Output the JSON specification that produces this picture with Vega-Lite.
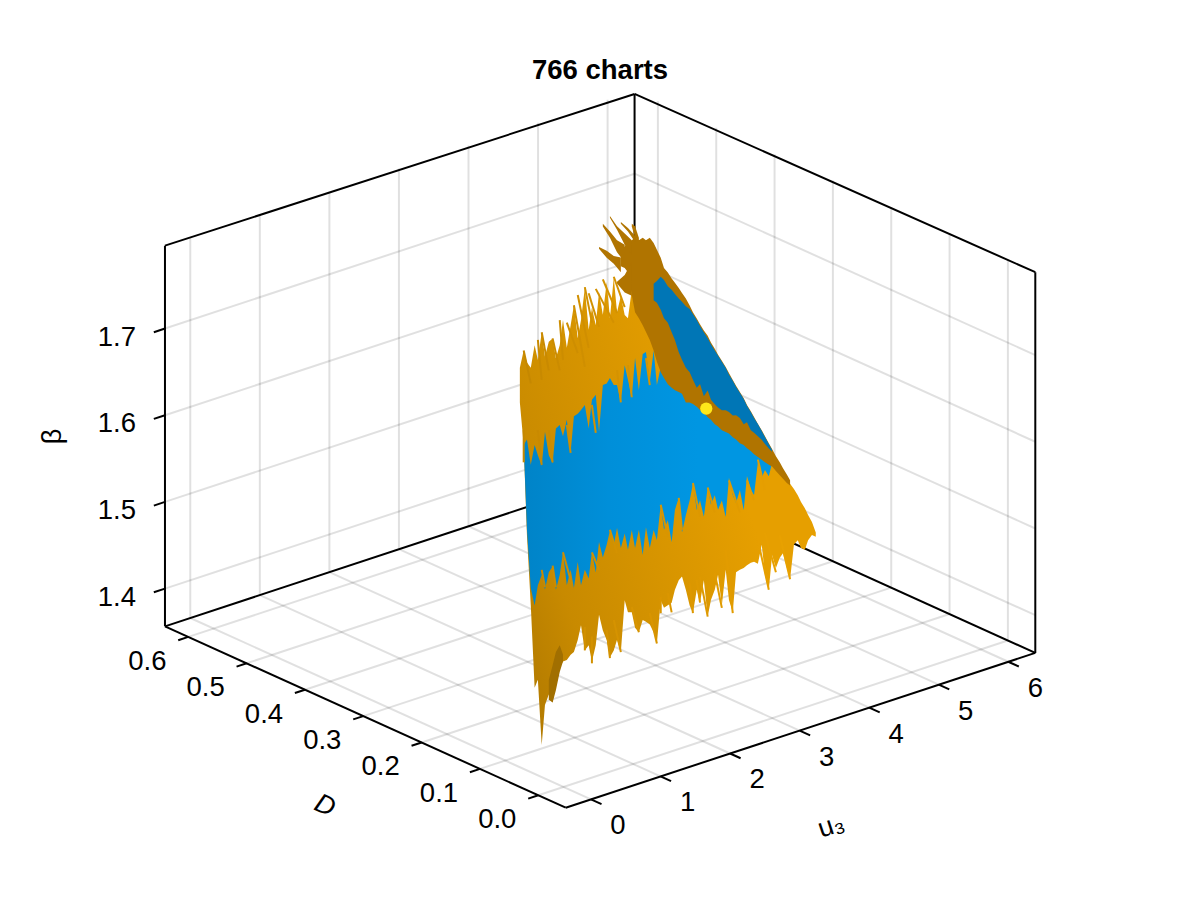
{
  "$schema": "https://vega.github.io/schema/vega-lite/v6.json",
  "width": 1200,
  "height": 900,
  "padding": 0,
  "autosize": {"type": "none"},
  "background": "white",
  "title": {"text": "766 charts", "font": "Liberation Sans", "fontSize": 27.5, "fontWeight": "bold", "color": "black", "anchor": "middle", "frame": "group", "baseline": "alphabetic", "offset": -106},
  "config": {"view": {"stroke": null}, "text": {"font": "Liberation Sans"}},
  "datasets": {
    "frame": [
      {"kind":"grid","u3":0,"D":-0.047,"beta":1.3565,"u3End":0,"DEnd":0.64,"betaEnd":1.3565},
      {"kind":"grid","u3":1,"D":-0.047,"beta":1.3565,"u3End":1,"DEnd":0.64,"betaEnd":1.3565},
      {"kind":"grid","u3":2,"D":-0.047,"beta":1.3565,"u3End":2,"DEnd":0.64,"betaEnd":1.3565},
      {"kind":"grid","u3":3,"D":-0.047,"beta":1.3565,"u3End":3,"DEnd":0.64,"betaEnd":1.3565},
      {"kind":"grid","u3":4,"D":-0.047,"beta":1.3565,"u3End":4,"DEnd":0.64,"betaEnd":1.3565},
      {"kind":"grid","u3":5,"D":-0.047,"beta":1.3565,"u3End":5,"DEnd":0.64,"betaEnd":1.3565},
      {"kind":"grid","u3":6,"D":-0.047,"beta":1.3565,"u3End":6,"DEnd":0.64,"betaEnd":1.3565},
      {"kind":"grid","u3":-0.364,"D":0,"beta":1.3565,"u3End":6.388,"DEnd":0,"betaEnd":1.3565},
      {"kind":"grid","u3":-0.364,"D":0.1,"beta":1.3565,"u3End":6.388,"DEnd":0.1,"betaEnd":1.3565},
      {"kind":"grid","u3":-0.364,"D":0.2,"beta":1.3565,"u3End":6.388,"DEnd":0.2,"betaEnd":1.3565},
      {"kind":"grid","u3":-0.364,"D":0.3,"beta":1.3565,"u3End":6.388,"DEnd":0.3,"betaEnd":1.3565},
      {"kind":"grid","u3":-0.364,"D":0.4,"beta":1.3565,"u3End":6.388,"DEnd":0.4,"betaEnd":1.3565},
      {"kind":"grid","u3":-0.364,"D":0.5,"beta":1.3565,"u3End":6.388,"DEnd":0.5,"betaEnd":1.3565},
      {"kind":"grid","u3":-0.364,"D":0.6,"beta":1.3565,"u3End":6.388,"DEnd":0.6,"betaEnd":1.3565},
      {"kind":"grid","u3":0,"D":0.64,"beta":1.3565,"u3End":0,"DEnd":0.64,"betaEnd":1.7956},
      {"kind":"grid","u3":1,"D":0.64,"beta":1.3565,"u3End":1,"DEnd":0.64,"betaEnd":1.7956},
      {"kind":"grid","u3":2,"D":0.64,"beta":1.3565,"u3End":2,"DEnd":0.64,"betaEnd":1.7956},
      {"kind":"grid","u3":3,"D":0.64,"beta":1.3565,"u3End":3,"DEnd":0.64,"betaEnd":1.7956},
      {"kind":"grid","u3":4,"D":0.64,"beta":1.3565,"u3End":4,"DEnd":0.64,"betaEnd":1.7956},
      {"kind":"grid","u3":5,"D":0.64,"beta":1.3565,"u3End":5,"DEnd":0.64,"betaEnd":1.7956},
      {"kind":"grid","u3":6,"D":0.64,"beta":1.3565,"u3End":6,"DEnd":0.64,"betaEnd":1.7956},
      {"kind":"grid","u3":-0.364,"D":0.64,"beta":1.4,"u3End":6.388,"DEnd":0.64,"betaEnd":1.4},
      {"kind":"grid","u3":-0.364,"D":0.64,"beta":1.5,"u3End":6.388,"DEnd":0.64,"betaEnd":1.5},
      {"kind":"grid","u3":-0.364,"D":0.64,"beta":1.6,"u3End":6.388,"DEnd":0.64,"betaEnd":1.6},
      {"kind":"grid","u3":-0.364,"D":0.64,"beta":1.7,"u3End":6.388,"DEnd":0.64,"betaEnd":1.7},
      {"kind":"grid","u3":6.388,"D":0,"beta":1.3565,"u3End":6.388,"DEnd":0,"betaEnd":1.7956},
      {"kind":"grid","u3":6.388,"D":0.1,"beta":1.3565,"u3End":6.388,"DEnd":0.1,"betaEnd":1.7956},
      {"kind":"grid","u3":6.388,"D":0.2,"beta":1.3565,"u3End":6.388,"DEnd":0.2,"betaEnd":1.7956},
      {"kind":"grid","u3":6.388,"D":0.3,"beta":1.3565,"u3End":6.388,"DEnd":0.3,"betaEnd":1.7956},
      {"kind":"grid","u3":6.388,"D":0.4,"beta":1.3565,"u3End":6.388,"DEnd":0.4,"betaEnd":1.7956},
      {"kind":"grid","u3":6.388,"D":0.5,"beta":1.3565,"u3End":6.388,"DEnd":0.5,"betaEnd":1.7956},
      {"kind":"grid","u3":6.388,"D":0.6,"beta":1.3565,"u3End":6.388,"DEnd":0.6,"betaEnd":1.7956},
      {"kind":"grid","u3":6.388,"D":-0.047,"beta":1.4,"u3End":6.388,"DEnd":0.64,"betaEnd":1.4},
      {"kind":"grid","u3":6.388,"D":-0.047,"beta":1.5,"u3End":6.388,"DEnd":0.64,"betaEnd":1.5},
      {"kind":"grid","u3":6.388,"D":-0.047,"beta":1.6,"u3End":6.388,"DEnd":0.64,"betaEnd":1.6},
      {"kind":"grid","u3":6.388,"D":-0.047,"beta":1.7,"u3End":6.388,"DEnd":0.64,"betaEnd":1.7},
      {"kind":"edge","u3":-0.364,"D":0.64,"beta":1.3565,"u3End":-0.364,"DEnd":0.64,"betaEnd":1.7956},
      {"kind":"edge","u3":6.388,"D":-0.047,"beta":1.3565,"u3End":6.388,"DEnd":-0.047,"betaEnd":1.7956},
      {"kind":"edge","u3":6.388,"D":0.64,"beta":1.3565,"u3End":6.388,"DEnd":0.64,"betaEnd":1.792},
      {"kind":"edge","u3":-0.364,"D":0.64,"beta":1.7956,"u3End":6.388,"DEnd":0.64,"betaEnd":1.792},
      {"kind":"edge","u3":6.388,"D":0.64,"beta":1.792,"u3End":6.388,"DEnd":-0.047,"betaEnd":1.7956},
      {"kind":"edge","u3":-0.364,"D":-0.047,"beta":1.3565,"u3End":6.388,"DEnd":-0.047,"betaEnd":1.3565},
      {"kind":"edge","u3":-0.364,"D":-0.047,"beta":1.3565,"u3End":-0.364,"DEnd":0.64,"betaEnd":1.3565},
      {"kind":"edge","u3":-0.364,"D":0.64,"beta":1.3565,"u3End":6.388,"DEnd":0.64,"betaEnd":1.3565},
      {"kind":"edge","u3":6.388,"D":-0.047,"beta":1.3565,"u3End":6.388,"DEnd":0.64,"betaEnd":1.3565}
    ],
    "ticks": [
      {"axis":"u3","label":"0","u3":0,"D":-0.047,"beta":1.3565,"u3End":0,"DEnd":-0.065,"betaEnd":1.3565},
      {"axis":"u3","label":"1","u3":1,"D":-0.047,"beta":1.3565,"u3End":1,"DEnd":-0.065,"betaEnd":1.3565},
      {"axis":"u3","label":"2","u3":2,"D":-0.047,"beta":1.3565,"u3End":2,"DEnd":-0.065,"betaEnd":1.3565},
      {"axis":"u3","label":"3","u3":3,"D":-0.047,"beta":1.3565,"u3End":3,"DEnd":-0.065,"betaEnd":1.3565},
      {"axis":"u3","label":"4","u3":4,"D":-0.047,"beta":1.3565,"u3End":4,"DEnd":-0.065,"betaEnd":1.3565},
      {"axis":"u3","label":"5","u3":5,"D":-0.047,"beta":1.3565,"u3End":5,"DEnd":-0.065,"betaEnd":1.3565},
      {"axis":"u3","label":"6","u3":6,"D":-0.047,"beta":1.3565,"u3End":6,"DEnd":-0.065,"betaEnd":1.3565},
      {"axis":"D","label":"0.0","u3":-0.364,"D":0,"beta":1.3565,"u3End":-0.509,"DEnd":0,"betaEnd":1.3565},
      {"axis":"D","label":"0.1","u3":-0.364,"D":0.1,"beta":1.3565,"u3End":-0.509,"DEnd":0.1,"betaEnd":1.3565},
      {"axis":"D","label":"0.2","u3":-0.364,"D":0.2,"beta":1.3565,"u3End":-0.509,"DEnd":0.2,"betaEnd":1.3565},
      {"axis":"D","label":"0.3","u3":-0.364,"D":0.3,"beta":1.3565,"u3End":-0.509,"DEnd":0.3,"betaEnd":1.3565},
      {"axis":"D","label":"0.4","u3":-0.364,"D":0.4,"beta":1.3565,"u3End":-0.509,"DEnd":0.4,"betaEnd":1.3565},
      {"axis":"D","label":"0.5","u3":-0.364,"D":0.5,"beta":1.3565,"u3End":-0.509,"DEnd":0.5,"betaEnd":1.3565},
      {"axis":"D","label":"0.6","u3":-0.364,"D":0.6,"beta":1.3565,"u3End":-0.509,"DEnd":0.6,"betaEnd":1.3565},
      {"axis":"beta","label":"1.4","u3":-0.364,"D":0.64,"beta":1.4,"u3End":-0.524,"DEnd":0.64,"betaEnd":1.4},
      {"axis":"beta","label":"1.5","u3":-0.364,"D":0.64,"beta":1.5,"u3End":-0.524,"DEnd":0.64,"betaEnd":1.5},
      {"axis":"beta","label":"1.6","u3":-0.364,"D":0.64,"beta":1.6,"u3End":-0.524,"DEnd":0.64,"betaEnd":1.6},
      {"axis":"beta","label":"1.7","u3":-0.364,"D":0.64,"beta":1.7,"u3End":-0.524,"DEnd":0.64,"betaEnd":1.7}
    ],
    "sheet": [
      {"u3":1.82,"D":0.292,"top":1.703,"blueTop":1.666,"blueBottom":1.666,"bottom":1.663},
      {"u3":1.85,"D":0.289,"top":1.723,"blueTop":1.614,"blueBottom":1.614,"bottom":1.614},
      {"u3":1.88,"D":0.287,"top":1.709,"blueTop":1.620,"blueBottom":1.516,"bottom":1.510},
      {"u3":1.91,"D":0.284,"top":1.703,"blueTop":1.591,"blueBottom":1.449,"bottom":1.429},
      {"u3":1.94,"D":0.281,"top":1.729,"blueTop":1.614,"blueBottom":1.429,"bottom":1.334},
      {"u3":1.97,"D":0.279,"top":1.712,"blueTop":1.602,"blueBottom":1.452,"bottom":1.343},
      {"u3":2.00,"D":0.276,"top":1.744,"blueTop":1.590,"blueBottom":1.464,"bottom":1.268},
      {"u3":2.03,"D":0.274,"top":1.716,"blueTop":1.629,"blueBottom":1.447,"bottom":1.314},
      {"u3":2.06,"D":0.271,"top":1.733,"blueTop":1.602,"blueBottom":1.467,"bottom":1.326},
      {"u3":2.09,"D":0.268,"top":1.737,"blueTop":1.593,"blueBottom":1.474,"bottom":1.317},
      {"u3":2.12,"D":0.266,"top":1.714,"blueTop":1.633,"blueBottom":1.447,"bottom":1.343},
      {"u3":2.15,"D":0.263,"top":1.729,"blueTop":1.637,"blueBottom":1.464,"bottom":1.357},
      {"u3":2.18,"D":0.261,"top":1.758,"blueTop":1.624,"blueBottom":1.490,"bottom":1.364},
      {"u3":2.21,"D":0.258,"top":1.726,"blueTop":1.643,"blueBottom":1.452,"bottom":1.366},
      {"u3":2.24,"D":0.255,"top":1.752,"blueTop":1.606,"blueBottom":1.470,"bottom":1.372},
      {"u3":2.27,"D":0.253,"top":1.775,"blueTop":1.647,"blueBottom":1.449,"bottom":1.375},
      {"u3":2.30,"D":0.250,"top":1.737,"blueTop":1.650,"blueBottom":1.479,"bottom":1.389},
      {"u3":2.33,"D":0.248,"top":1.758,"blueTop":1.654,"blueBottom":1.452,"bottom":1.406},
      {"u3":2.36,"D":0.245,"top":1.795,"blueTop":1.660,"blueBottom":1.470,"bottom":1.377},
      {"u3":2.39,"D":0.242,"top":1.747,"blueTop":1.633,"blueBottom":1.460,"bottom":1.383},
      {"u3":2.42,"D":0.240,"top":1.772,"blueTop":1.666,"blueBottom":1.490,"bottom":1.364},
      {"u3":2.45,"D":0.237,"top":1.752,"blueTop":1.672,"blueBottom":1.467,"bottom":1.383},
      {"u3":2.48,"D":0.235,"top":1.790,"blueTop":1.629,"blueBottom":1.502,"bottom":1.418},
      {"u3":2.51,"D":0.232,"top":1.764,"blueTop":1.683,"blueBottom":1.484,"bottom":1.400},
      {"u3":2.54,"D":0.229,"top":1.802,"blueTop":1.685,"blueBottom":1.499,"bottom":1.389},
      {"u3":2.57,"D":0.227,"top":1.760,"blueTop":1.691,"blueBottom":1.515,"bottom":1.369},
      {"u3":2.60,"D":0.224,"top":1.807,"blueTop":1.683,"blueBottom":1.499,"bottom":1.377},
      {"u3":2.63,"D":0.222,"top":1.767,"blueTop":1.683,"blueBottom":1.518,"bottom":1.389},
      {"u3":2.66,"D":0.219,"top":1.786,"blueTop":1.663,"blueBottom":1.495,"bottom":1.375},
      {"u3":2.69,"D":0.216,"top":1.764,"blueTop":1.706,"blueBottom":1.512,"bottom":1.435},
      {"u3":2.72,"D":0.214,"top":1.760,"blueTop":1.689,"blueBottom":1.493,"bottom":1.421},
      {"u3":2.75,"D":0.211,"top":1.793,"blueTop":1.669,"blueBottom":1.516,"bottom":1.421},
      {"u3":2.78,"D":0.209,"top":1.773,"blueTop":1.714,"blueBottom":1.495,"bottom":1.403},
      {"u3":2.81,"D":0.206,"top":1.766,"blueTop":1.677,"blueBottom":1.516,"bottom":1.398},
      {"u3":2.84,"D":0.203,"top":1.758,"blueTop":1.719,"blueBottom":1.487,"bottom":1.412},
      {"u3":2.87,"D":0.201,"top":1.750,"blueTop":1.721,"blueBottom":1.519,"bottom":1.410},
      {"u3":2.90,"D":0.198,"top":1.741,"blueTop":1.687,"blueBottom":1.495,"bottom":1.407},
      {"u3":2.93,"D":0.195,"top":1.729,"blueTop":1.723,"blueBottom":1.516,"bottom":1.398},
      {"u3":2.96,"D":0.193,"top":1.715,"blueTop":1.683,"blueBottom":1.504,"bottom":1.385},
      {"u3":2.99,"D":0.190,"top":1.704,"blueTop":1.704,"blueBottom":1.545,"bottom":1.435},
      {"u3":3.02,"D":0.188,"top":1.697,"blueTop":1.697,"blueBottom":1.516,"bottom":1.426},
      {"u3":3.05,"D":0.185,"top":1.690,"blueTop":1.690,"blueBottom":1.527,"bottom":1.429},
      {"u3":3.08,"D":0.182,"top":1.685,"blueTop":1.685,"blueBottom":1.502,"bottom":1.432},
      {"u3":3.11,"D":0.180,"top":1.683,"blueTop":1.683,"blueBottom":1.539,"bottom":1.447},
      {"u3":3.14,"D":0.177,"top":1.681,"blueTop":1.681,"blueBottom":1.553,"bottom":1.458},
      {"u3":3.17,"D":0.175,"top":1.678,"blueTop":1.678,"blueBottom":1.513,"bottom":1.462},
      {"u3":3.20,"D":0.172,"top":1.669,"blueTop":1.669,"blueBottom":1.533,"bottom":1.447},
      {"u3":3.23,"D":0.169,"top":1.669,"blueTop":1.669,"blueBottom":1.550,"bottom":1.429},
      {"u3":3.26,"D":0.167,"top":1.667,"blueTop":1.667,"blueBottom":1.569,"bottom":1.420},
      {"u3":3.29,"D":0.164,"top":1.663,"blueTop":1.663,"blueBottom":1.539,"bottom":1.447},
      {"u3":3.32,"D":0.162,"top":1.660,"blueTop":1.660,"blueBottom":1.550,"bottom":1.432},
      {"u3":3.35,"D":0.159,"top":1.657,"blueTop":1.657,"blueBottom":1.531,"bottom":1.458},
      {"u3":3.38,"D":0.156,"top":1.652,"blueTop":1.652,"blueBottom":1.565,"bottom":1.416},
      {"u3":3.41,"D":0.154,"top":1.649,"blueTop":1.649,"blueBottom":1.545,"bottom":1.435},
      {"u3":3.44,"D":0.151,"top":1.644,"blueTop":1.644,"blueBottom":1.556,"bottom":1.447},
      {"u3":3.47,"D":0.149,"top":1.640,"blueTop":1.640,"blueBottom":1.539,"bottom":1.464},
      {"u3":3.50,"D":0.146,"top":1.637,"blueTop":1.637,"blueBottom":1.550,"bottom":1.429},
      {"u3":3.53,"D":0.143,"top":1.635,"blueTop":1.635,"blueBottom":1.531,"bottom":1.470},
      {"u3":3.56,"D":0.141,"top":1.632,"blueTop":1.632,"blueBottom":1.576,"bottom":1.435},
      {"u3":3.59,"D":0.138,"top":1.629,"blueTop":1.629,"blueBottom":1.556,"bottom":1.421},
      {"u3":3.62,"D":0.136,"top":1.625,"blueTop":1.625,"blueBottom":1.547,"bottom":1.467},
      {"u3":3.65,"D":0.133,"top":1.622,"blueTop":1.622,"blueBottom":1.562,"bottom":1.470},
      {"u3":3.68,"D":0.130,"top":1.620,"blueTop":1.620,"blueBottom":1.539,"bottom":1.472},
      {"u3":3.71,"D":0.128,"top":1.616,"blueTop":1.616,"blueBottom":1.578,"bottom":1.475},
      {"u3":3.74,"D":0.125,"top":1.613,"blueTop":1.613,"blueBottom":1.562,"bottom":1.478},
      {"u3":3.77,"D":0.123,"top":1.609,"blueTop":1.609,"blueBottom":1.556,"bottom":1.479},
      {"u3":3.80,"D":0.120,"top":1.606,"blueTop":1.606,"blueBottom":1.594,"bottom":1.477},
      {"u3":3.83,"D":0.117,"top":1.602,"blueTop":1.602,"blueBottom":1.576,"bottom":1.499},
      {"u3":3.86,"D":0.115,"top":1.600,"blueTop":1.600,"blueBottom":1.585,"bottom":1.464},
      {"u3":3.89,"D":0.112,"top":1.597,"blueTop":1.597,"blueBottom":1.578,"bottom":1.447},
      {"u3":3.92,"D":0.110,"top":1.594,"blueTop":1.594,"blueBottom":1.593,"bottom":1.487},
      {"u3":3.95,"D":0.107,"top":1.597,"blueTop":1.597,"blueBottom":1.597,"bottom":1.472},
      {"u3":3.98,"D":0.104,"top":1.590,"blueTop":1.590,"blueBottom":1.590,"bottom":1.484},
      {"u3":4.01,"D":0.102,"top":1.583,"blueTop":1.583,"blueBottom":1.583,"bottom":1.489},
      {"u3":4.04,"D":0.099,"top":1.576,"blueTop":1.576,"blueBottom":1.576,"bottom":1.472},
      {"u3":4.07,"D":0.097,"top":1.569,"blueTop":1.569,"blueBottom":1.569,"bottom":1.459},
      {"u3":4.10,"D":0.094,"top":1.563,"blueTop":1.563,"blueBottom":1.563,"bottom":1.499},
      {"u3":4.13,"D":0.091,"top":1.556,"blueTop":1.556,"blueBottom":1.556,"bottom":1.504},
      {"u3":4.16,"D":0.089,"top":1.548,"blueTop":1.548,"blueBottom":1.548,"bottom":1.495},
      {"u3":4.19,"D":0.086,"top":1.541,"blueTop":1.541,"blueBottom":1.541,"bottom":1.493},
      {"u3":4.22,"D":0.084,"top":1.533,"blueTop":1.533,"blueBottom":1.533,"bottom":1.504},
      {"u3":4.25,"D":0.081,"top":1.525,"blueTop":1.525,"blueBottom":1.525,"bottom":1.510},
      {"u3":4.28,"D":0.078,"top":1.513,"blueTop":1.513,"blueBottom":1.513,"bottom":1.508}
    ],
    "needles": [
      {"u3":2.30,"D":0.250,"beta":1.787,"u3End":2.39,"DEnd":0.242,"betaEnd":1.726},
      {"u3":2.36,"D":0.245,"beta":1.796,"u3End":2.42,"DEnd":0.240,"betaEnd":1.755},
      {"u3":2.39,"D":0.242,"beta":1.789,"u3End":2.48,"DEnd":0.235,"betaEnd":1.750},
      {"u3":2.45,"D":0.237,"beta":1.794,"u3End":2.60,"DEnd":0.224,"betaEnd":1.755},
      {"u3":2.51,"D":0.232,"beta":1.805,"u3End":2.63,"DEnd":0.222,"betaEnd":1.766},
      {"u3":2.60,"D":0.224,"beta":1.808,"u3End":2.69,"DEnd":0.216,"betaEnd":1.773},
      {"u3":2.27,"D":0.253,"beta":1.775,"u3End":2.36,"DEnd":0.245,"betaEnd":1.704},
      {"u3":2.15,"D":0.263,"beta":1.758,"u3End":2.18,"DEnd":0.261,"betaEnd":1.712},
      {"u3":2.21,"D":0.258,"beta":1.755,"u3End":2.30,"DEnd":0.250,"betaEnd":1.720},
      {"u3":2.09,"D":0.268,"beta":1.737,"u3End":2.15,"DEnd":0.263,"betaEnd":1.700},
      {"u3":2.00,"D":0.276,"beta":1.744,"u3End":2.06,"DEnd":0.271,"betaEnd":1.700},
      {"u3":1.97,"D":0.279,"beta":1.735,"u3End":2.00,"DEnd":0.276,"betaEnd":1.689},
      {"u3":1.85,"D":0.289,"beta":1.723,"u3End":1.91,"DEnd":0.284,"betaEnd":1.685},
      {"u3":3.38,"D":0.156,"beta":1.416,"u3End":3.32,"DEnd":0.162,"betaEnd":1.462},
      {"u3":3.59,"D":0.138,"beta":1.420,"u3End":3.53,"DEnd":0.143,"betaEnd":1.493},
      {"u3":3.50,"D":0.146,"beta":1.426,"u3End":3.44,"DEnd":0.151,"betaEnd":1.466},
      {"u3":3.26,"D":0.167,"beta":1.420,"u3End":3.23,"DEnd":0.169,"betaEnd":1.455},
      {"u3":3.89,"D":0.112,"beta":1.447,"u3End":3.80,"DEnd":0.120,"betaEnd":1.504},
      {"u3":4.07,"D":0.097,"beta":1.459,"u3End":3.98,"DEnd":0.104,"betaEnd":1.510},
      {"u3":3.32,"D":0.162,"beta":1.432,"u3End":3.29,"DEnd":0.164,"betaEnd":1.458},
      {"u3":2.99,"D":0.190,"beta":1.420,"u3End":2.99,"DEnd":0.190,"betaEnd":1.439},
      {"u3":3.08,"D":0.182,"beta":1.421,"u3End":3.05,"DEnd":0.185,"betaEnd":1.443},
      {"u3":3.95,"D":0.107,"beta":1.467,"u3End":3.86,"DEnd":0.115,"betaEnd":1.512},
      {"u3":2.96,"D":0.193,"beta":1.385,"u3End":2.90,"DEnd":0.198,"betaEnd":1.420},
      {"u3":2.81,"D":0.206,"beta":1.398,"u3End":2.75,"DEnd":0.211,"betaEnd":1.427},
      {"u3":2.66,"D":0.219,"beta":1.375,"u3End":2.60,"DEnd":0.224,"betaEnd":1.412},
      {"u3":2.57,"D":0.227,"beta":1.368,"u3End":2.54,"DEnd":0.229,"betaEnd":1.401},
      {"u3":2.42,"D":0.240,"beta":1.362,"u3End":2.42,"DEnd":0.240,"betaEnd":1.393},
      {"u3":2.36,"D":0.245,"beta":1.377,"u3End":2.36,"DEnd":0.245,"betaEnd":1.404},
      {"u3":3.26,"D":0.167,"beta":1.570,"u3End":3.32,"DEnd":0.162,"betaEnd":1.531},
      {"u3":3.56,"D":0.141,"beta":1.573,"u3End":3.65,"DEnd":0.133,"betaEnd":1.536},
      {"u3":3.71,"D":0.128,"beta":1.573,"u3End":3.77,"DEnd":0.123,"betaEnd":1.550},
      {"u3":3.14,"D":0.177,"beta":1.553,"u3End":3.17,"DEnd":0.175,"betaEnd":1.516},
      {"u3":3.38,"D":0.156,"beta":1.565,"u3End":3.44,"DEnd":0.151,"betaEnd":1.536},
      {"u3":2.99,"D":0.190,"beta":1.545,"u3End":3.05,"DEnd":0.185,"betaEnd":1.508},
      {"u3":2.57,"D":0.227,"beta":1.516,"u3End":2.63,"DEnd":0.222,"betaEnd":1.489},
      {"u3":2.42,"D":0.240,"beta":1.490,"u3End":2.48,"DEnd":0.235,"betaEnd":1.470},
      {"u3":2.18,"D":0.261,"beta":1.490,"u3End":2.24,"DEnd":0.255,"betaEnd":1.458},
      {"u3":2.09,"D":0.268,"beta":1.475,"u3End":2.12,"DEnd":0.266,"betaEnd":1.450},
      {"u3":2.00,"D":0.276,"beta":1.470,"u3End":2.03,"DEnd":0.274,"betaEnd":1.450},
      {"u3":3.80,"D":0.120,"beta":1.597,"u3End":3.86,"DEnd":0.115,"betaEnd":1.562},
      {"u3":1.85,"D":0.289,"beta":1.594,"u3End":1.85,"DEnd":0.289,"betaEnd":1.631},
      {"u3":2.00,"D":0.276,"beta":1.591,"u3End":1.97,"DEnd":0.279,"betaEnd":1.631},
      {"u3":2.09,"D":0.268,"beta":1.594,"u3End":2.06,"DEnd":0.271,"betaEnd":1.631},
      {"u3":2.24,"D":0.255,"beta":1.605,"u3End":2.21,"DEnd":0.258,"betaEnd":1.637},
      {"u3":2.45,"D":0.237,"beta":1.628,"u3End":2.42,"DEnd":0.240,"betaEnd":1.660},
      {"u3":2.66,"D":0.219,"beta":1.663,"u3End":2.63,"DEnd":0.222,"betaEnd":1.700},
      {"u3":2.75,"D":0.211,"beta":1.669,"u3End":2.72,"DEnd":0.214,"betaEnd":1.706},
      {"u3":2.90,"D":0.198,"beta":1.683,"u3End":2.87,"DEnd":0.201,"betaEnd":1.714}
    ],
    "foldOrange": [
      {"u3":2.66,"D":0.219,"top":1.839,"bottom":1.820},
      {"u3":2.69,"D":0.216,"top":1.843,"bottom":1.818},
      {"u3":2.72,"D":0.214,"top":1.847,"bottom":1.813},
      {"u3":2.75,"D":0.211,"top":1.850,"bottom":1.787},
      {"u3":2.78,"D":0.209,"top":1.853,"bottom":1.767},
      {"u3":2.81,"D":0.206,"top":1.850,"bottom":1.760},
      {"u3":2.84,"D":0.203,"top":1.853,"bottom":1.752},
      {"u3":2.87,"D":0.201,"top":1.850,"bottom":1.744},
      {"u3":2.90,"D":0.198,"top":1.853,"bottom":1.735},
      {"u3":2.93,"D":0.195,"top":1.847,"bottom":1.723},
      {"u3":2.96,"D":0.193,"top":1.839,"bottom":1.710},
      {"u3":2.99,"D":0.190,"top":1.830,"bottom":1.698},
      {"u3":3.02,"D":0.188,"top":1.818,"bottom":1.691},
      {"u3":3.05,"D":0.185,"top":1.813,"bottom":1.684},
      {"u3":3.08,"D":0.182,"top":1.806,"bottom":1.680},
      {"u3":3.11,"D":0.180,"top":1.801,"bottom":1.677},
      {"u3":3.14,"D":0.177,"top":1.795,"bottom":1.675},
      {"u3":3.17,"D":0.175,"top":1.789,"bottom":1.673},
      {"u3":3.20,"D":0.172,"top":1.783,"bottom":1.663},
      {"u3":3.23,"D":0.169,"top":1.775,"bottom":1.663},
      {"u3":3.26,"D":0.167,"top":1.767,"bottom":1.661},
      {"u3":3.29,"D":0.164,"top":1.760,"bottom":1.658},
      {"u3":3.32,"D":0.162,"top":1.753,"bottom":1.654},
      {"u3":3.35,"D":0.159,"top":1.746,"bottom":1.651},
      {"u3":3.38,"D":0.156,"top":1.740,"bottom":1.646},
      {"u3":3.41,"D":0.154,"top":1.732,"bottom":1.643},
      {"u3":3.44,"D":0.151,"top":1.725,"bottom":1.638},
      {"u3":3.47,"D":0.149,"top":1.718,"bottom":1.635},
      {"u3":3.50,"D":0.146,"top":1.711,"bottom":1.631},
      {"u3":3.53,"D":0.143,"top":1.704,"bottom":1.629},
      {"u3":3.56,"D":0.141,"top":1.697,"bottom":1.627},
      {"u3":3.59,"D":0.138,"top":1.689,"bottom":1.623},
      {"u3":3.62,"D":0.136,"top":1.682,"bottom":1.620},
      {"u3":3.65,"D":0.133,"top":1.675,"bottom":1.616},
      {"u3":3.68,"D":0.130,"top":1.668,"bottom":1.614},
      {"u3":3.71,"D":0.128,"top":1.660,"bottom":1.610},
      {"u3":3.74,"D":0.125,"top":1.653,"bottom":1.607},
      {"u3":3.77,"D":0.123,"top":1.646,"bottom":1.603},
      {"u3":3.80,"D":0.120,"top":1.638,"bottom":1.600},
      {"u3":3.83,"D":0.117,"top":1.631,"bottom":1.597},
      {"u3":3.86,"D":0.115,"top":1.624,"bottom":1.594},
      {"u3":3.89,"D":0.112,"top":1.616,"bottom":1.591},
      {"u3":3.92,"D":0.110,"top":1.609,"bottom":1.589},
      {"u3":3.95,"D":0.107,"top":1.601,"bottom":1.584},
      {"u3":3.98,"D":0.104,"top":1.594,"bottom":1.579},
      {"u3":4.01,"D":0.102,"top":1.587,"bottom":1.575},
      {"u3":4.04,"D":0.099,"top":1.580,"bottom":1.570},
      {"u3":4.07,"D":0.097,"top":1.573,"bottom":1.567}
    ],
    "foldTips": [
      {"tip":"a","u3":2.48,"D":0.235,"top":1.842,"bottom":1.840},
      {"tip":"a","u3":2.54,"D":0.229,"top":1.838,"bottom":1.830},
      {"tip":"a","u3":2.60,"D":0.224,"top":1.832,"bottom":1.823},
      {"tip":"a","u3":2.66,"D":0.219,"top":1.830,"bottom":1.813},
      {"tip":"b","u3":2.51,"D":0.232,"top":1.869,"bottom":1.866},
      {"tip":"b","u3":2.57,"D":0.227,"top":1.860,"bottom":1.853},
      {"tip":"b","u3":2.63,"D":0.222,"top":1.850,"bottom":1.836},
      {"tip":"b","u3":2.69,"D":0.216,"top":1.845,"bottom":1.825},
      {"tip":"c","u3":2.57,"D":0.227,"top":1.878,"bottom":1.876},
      {"tip":"c","u3":2.63,"D":0.222,"top":1.866,"bottom":1.862},
      {"tip":"c","u3":2.69,"D":0.216,"top":1.858,"bottom":1.845},
      {"tip":"c","u3":2.75,"D":0.211,"top":1.850,"bottom":1.833},
      {"tip":"d","u3":2.66,"D":0.219,"top":1.871,"bottom":1.869},
      {"tip":"d","u3":2.72,"D":0.214,"top":1.864,"bottom":1.860},
      {"tip":"d","u3":2.78,"D":0.209,"top":1.855,"bottom":1.848},
      {"tip":"e","u3":2.75,"D":0.211,"top":1.869,"bottom":1.866},
      {"tip":"e","u3":2.78,"D":0.209,"top":1.866,"bottom":1.853},
      {"tip":"e","u3":2.81,"D":0.206,"top":1.853,"bottom":1.848},
      {"tip":"f","u3":2.63,"D":0.222,"top":1.802,"bottom":1.800},
      {"tip":"f","u3":2.69,"D":0.216,"top":1.810,"bottom":1.790},
      {"tip":"f","u3":2.75,"D":0.211,"top":1.825,"bottom":1.786}
    ],
    "foldBlue": [
      {"u3":2.93,"D":0.195,"top":1.800,"bottom":1.781},
      {"u3":2.96,"D":0.193,"top":1.803,"bottom":1.778},
      {"u3":2.99,"D":0.190,"top":1.808,"bottom":1.770},
      {"u3":3.02,"D":0.188,"top":1.804,"bottom":1.760},
      {"u3":3.05,"D":0.185,"top":1.797,"bottom":1.755},
      {"u3":3.08,"D":0.182,"top":1.793,"bottom":1.744},
      {"u3":3.11,"D":0.180,"top":1.788,"bottom":1.735},
      {"u3":3.14,"D":0.177,"top":1.783,"bottom":1.721},
      {"u3":3.17,"D":0.175,"top":1.779,"bottom":1.712},
      {"u3":3.20,"D":0.172,"top":1.774,"bottom":1.703},
      {"u3":3.23,"D":0.169,"top":1.771,"bottom":1.698},
      {"u3":3.26,"D":0.167,"top":1.765,"bottom":1.689},
      {"u3":3.29,"D":0.164,"top":1.758,"bottom":1.680},
      {"u3":3.32,"D":0.162,"top":1.751,"bottom":1.684},
      {"u3":3.35,"D":0.159,"top":1.744,"bottom":1.670},
      {"u3":3.38,"D":0.156,"top":1.737,"bottom":1.677},
      {"u3":3.41,"D":0.154,"top":1.730,"bottom":1.666},
      {"u3":3.44,"D":0.151,"top":1.723,"bottom":1.661},
      {"u3":3.47,"D":0.149,"top":1.717,"bottom":1.657},
      {"u3":3.50,"D":0.146,"top":1.710,"bottom":1.654},
      {"u3":3.53,"D":0.143,"top":1.703,"bottom":1.654},
      {"u3":3.56,"D":0.141,"top":1.695,"bottom":1.652},
      {"u3":3.59,"D":0.138,"top":1.688,"bottom":1.648},
      {"u3":3.62,"D":0.136,"top":1.681,"bottom":1.648},
      {"u3":3.65,"D":0.133,"top":1.674,"bottom":1.645},
      {"u3":3.68,"D":0.130,"top":1.667,"bottom":1.638},
      {"u3":3.71,"D":0.128,"top":1.659,"bottom":1.640},
      {"u3":3.74,"D":0.125,"top":1.652,"bottom":1.631},
      {"u3":3.77,"D":0.123,"top":1.645,"bottom":1.628},
      {"u3":3.80,"D":0.120,"top":1.638,"bottom":1.624},
      {"u3":3.83,"D":0.117,"top":1.630,"bottom":1.620},
      {"u3":3.86,"D":0.115,"top":1.623,"bottom":1.615},
      {"u3":3.89,"D":0.112,"top":1.615,"bottom":1.610},
      {"u3":3.92,"D":0.110,"top":1.608,"bottom":1.606}
    ],
    "wedge": [
      {"u3":2.06,"D":0.271,"top":1.343,"bottom":1.320},
      {"u3":2.09,"D":0.268,"top":1.360,"bottom":1.317},
      {"u3":2.12,"D":0.266,"top":1.375,"bottom":1.331},
      {"u3":2.15,"D":0.263,"top":1.383,"bottom":1.352},
      {"u3":2.18,"D":0.261,"top":1.372,"bottom":1.364}
    ]
  },
  "encoding": {
    "x": {"field": "sx", "type": "quantitative", "axis": null, "scale": {"domain": [0, 1200], "nice": false, "zero": false}},
    "y": {"field": "sy", "type": "quantitative", "axis": null, "scale": {"domain": [900, 0], "nice": false, "zero": false}}
  },
  "layer": [
    {
      "data": {"name": "frame"},
      "transform": [
        {"filter": "datum.kind == 'grid'"},
        {"calculate": "563.6 + 69.55*datum.u3 - 583.3*datum.D", "as": "sx"},
        {"calculate": "786.95 - 22.93*datum.u3 - 264*datum.D - 867*(datum.beta - 1.3565)", "as": "sy"},
        {"calculate": "563.6 + 69.55*datum.u3End - 583.3*datum.DEnd", "as": "sxEnd"},
        {"calculate": "786.95 - 22.93*datum.u3End - 264*datum.DEnd - 867*(datum.betaEnd - 1.3565)", "as": "syEnd"}
      ],
      "mark": {"type": "rule", "color": "black", "opacity": 0.12, "strokeWidth": 2},
      "encoding": {"x2": {"field": "sxEnd"}, "y2": {"field": "syEnd"}}
    },
    {
      "data": {"name": "frame"},
      "transform": [
        {"filter": "datum.kind == 'edge'"},
        {"calculate": "563.6 + 69.55*datum.u3 - 583.3*datum.D", "as": "sx"},
        {"calculate": "786.95 - 22.93*datum.u3 - 264*datum.D - 867*(datum.beta - 1.3565)", "as": "sy"},
        {"calculate": "563.6 + 69.55*datum.u3End - 583.3*datum.DEnd", "as": "sxEnd"},
        {"calculate": "786.95 - 22.93*datum.u3End - 264*datum.DEnd - 867*(datum.betaEnd - 1.3565)", "as": "syEnd"}
      ],
      "mark": {"type": "rule", "color": "black", "strokeWidth": 2},
      "encoding": {"x2": {"field": "sxEnd"}, "y2": {"field": "syEnd"}}
    },
    {
      "data": {"name": "ticks"},
      "transform": [
        {"calculate": "563.6 + 69.55*datum.u3 - 583.3*datum.D", "as": "sx"},
        {"calculate": "786.95 - 22.93*datum.u3 - 264*datum.D - 867*(datum.beta - 1.3565)", "as": "sy"},
        {"calculate": "563.6 + 69.55*datum.u3End - 583.3*datum.DEnd", "as": "sxEnd"},
        {"calculate": "786.95 - 22.93*datum.u3End - 264*datum.DEnd - 867*(datum.betaEnd - 1.3565)", "as": "syEnd"}
      ],
      "mark": {"type": "rule", "color": "black", "strokeWidth": 2},
      "encoding": {"x2": {"field": "sxEnd"}, "y2": {"field": "syEnd"}}
    },
    {
      "data": {"name": "ticks"},
      "transform": [
        {"filter": "datum.axis == 'u3'"},
        {"calculate": "563.6 + 69.55*datum.u3 - 583.3*datum.D", "as": "sx"},
        {"calculate": "786.95 - 22.93*datum.u3 - 264*datum.D - 867*(datum.beta - 1.3565)", "as": "sy"}
      ],
      "mark": {"type": "text", "fontSize": 27.5, "color": "black", "dx": 27, "dy": 27, "align": "center", "baseline": "middle"},
      "encoding": {"text": {"field": "label"}}
    },
    {
      "data": {"name": "ticks"},
      "transform": [
        {"filter": "datum.axis == 'D'"},
        {"calculate": "563.6 + 69.55*datum.u3 - 583.3*datum.D", "as": "sx"},
        {"calculate": "786.95 - 22.93*datum.u3 - 264*datum.D - 867*(datum.beta - 1.3565)", "as": "sy"}
      ],
      "mark": {"type": "text", "fontSize": 27.5, "color": "black", "dx": -41, "dy": 25, "align": "center", "baseline": "middle"},
      "encoding": {"text": {"field": "label"}}
    },
    {
      "data": {"name": "ticks"},
      "transform": [
        {"filter": "datum.axis == 'beta'"},
        {"calculate": "563.6 + 69.55*datum.u3 - 583.3*datum.D", "as": "sx"},
        {"calculate": "786.95 - 22.93*datum.u3 - 264*datum.D - 867*(datum.beta - 1.3565)", "as": "sy"}
      ],
      "mark": {"type": "text", "fontSize": 27.5, "color": "black", "dx": -29, "dy": 9, "align": "right", "baseline": "middle"},
      "encoding": {"text": {"field": "label"}}
    },
    {
      "data": {"values": [{"label": "u₃", "u3": 1.507, "D": -0.279, "beta": 1.3565}]},
      "transform": [
        {"calculate": "563.6 + 69.55*datum.u3 - 583.3*datum.D", "as": "sx"},
        {"calculate": "786.95 - 22.93*datum.u3 - 264*datum.D - 867*(datum.beta - 1.3565)", "as": "sy"}
      ],
      "mark": {"type": "text", "fontSize": 27, "color": "black", "angle": 342, "align": "center", "baseline": "middle"},
      "encoding": {"text": {"field": "label"}}
    },
    {
      "data": {"values": [{"label": "D", "u3": -2.335, "D": 0.131, "beta": 1.3565}]},
      "transform": [
        {"calculate": "563.6 + 69.55*datum.u3 - 583.3*datum.D", "as": "sx"},
        {"calculate": "786.95 - 22.93*datum.u3 - 264*datum.D - 867*(datum.beta - 1.3565)", "as": "sy"}
      ],
      "mark": {"type": "text", "fontSize": 27, "fontStyle": "italic", "color": "black", "angle": 24, "align": "center", "baseline": "middle"},
      "encoding": {"text": {"field": "label"}}
    },
    {
      "data": {"values": [{"label": "β", "u3": -1.974, "D": 0.64, "beta": 1.618}]},
      "transform": [
        {"calculate": "563.6 + 69.55*datum.u3 - 583.3*datum.D", "as": "sx"},
        {"calculate": "786.95 - 22.93*datum.u3 - 264*datum.D - 867*(datum.beta - 1.3565)", "as": "sy"}
      ],
      "mark": {"type": "text", "fontSize": 27, "color": "black", "angle": 270, "align": "center", "baseline": "middle"},
      "encoding": {"text": {"field": "label"}}
    },
    {
      "data": {"name": "sheet"},
      "transform": [
        {"calculate": "563.6 + 69.55*datum.u3 - 583.3*datum.D", "as": "sx"},
        {"calculate": "786.95 - 22.93*datum.u3 - 264*datum.D - 867*(datum.top - 1.3565)", "as": "sy"},
        {"calculate": "786.95 - 22.93*datum.u3 - 264*datum.D - 867*(datum.bottom - 1.3565)", "as": "syEnd"}
      ],
      "mark": {"type": "area", "orient": "vertical", "fill": {"gradient": "linear", "x1": 0, "y1": 0.85, "x2": 0.75, "y2": 0.45, "stops": [{"offset": 0, "color": "#b37b00"}, {"offset": 0.25, "color": "#c88a00"}, {"offset": 0.6, "color": "#d69400"}, {"offset": 1, "color": "#e69f00"}]}},
      "encoding": {"y2": {"field": "syEnd"}}
    },
    {
      "data": {"name": "sheet"},
      "transform": [
        {"calculate": "563.6 + 69.55*datum.u3 - 583.3*datum.D", "as": "sx"},
        {"calculate": "786.95 - 22.93*datum.u3 - 264*datum.D - 867*(datum.blueTop - 1.3565)", "as": "sy"},
        {"calculate": "786.95 - 22.93*datum.u3 - 264*datum.D - 867*(datum.blueBottom - 1.3565)", "as": "syEnd"}
      ],
      "mark": {"type": "area", "orient": "vertical", "fill": {"gradient": "linear", "x1": 0, "y1": 0.5, "x2": 0.6, "y2": 0.5, "stops": [{"offset": 0, "color": "#0083c7"}, {"offset": 0.5, "color": "#008fd9"}, {"offset": 1, "color": "#0096e2"}]}},
      "encoding": {"y2": {"field": "syEnd"}}
    },
    {
      "data": {"name": "needles"},
      "transform": [
        {"calculate": "563.6 + 69.55*datum.u3 - 583.3*datum.D", "as": "sx"},
        {"calculate": "786.95 - 22.93*datum.u3 - 264*datum.D - 867*(datum.beta - 1.3565)", "as": "sy"},
        {"calculate": "563.6 + 69.55*datum.u3End - 583.3*datum.DEnd", "as": "sxEnd"},
        {"calculate": "786.95 - 22.93*datum.u3End - 264*datum.DEnd - 867*(datum.betaEnd - 1.3565)", "as": "syEnd"}
      ],
      "mark": {"type": "rule", "strokeWidth": 2},
      "encoding": {
        "x2": {"field": "sxEnd"},
        "y2": {"field": "syEnd"},
        "color": {"field": "u3", "type": "quantitative", "legend": null, "scale": {"domain": [1.8, 2.4, 3.0, 3.9], "range": ["#c48700", "#d29100", "#d99500", "#e69f00"]}}
      }
    },
    {
      "data": {"name": "wedge"},
      "transform": [
        {"calculate": "563.6 + 69.55*datum.u3 - 583.3*datum.D", "as": "sx"},
        {"calculate": "786.95 - 22.93*datum.u3 - 264*datum.D - 867*(datum.top - 1.3565)", "as": "sy"},
        {"calculate": "786.95 - 22.93*datum.u3 - 264*datum.D - 867*(datum.bottom - 1.3565)", "as": "syEnd"}
      ],
      "mark": {"type": "area", "orient": "vertical", "color": "#a16f00"},
      "encoding": {"y2": {"field": "syEnd"}}
    },
    {
      "data": {"name": "foldOrange"},
      "transform": [
        {"calculate": "563.6 + 69.55*datum.u3 - 583.3*datum.D", "as": "sx"},
        {"calculate": "786.95 - 22.93*datum.u3 - 264*datum.D - 867*(datum.top - 1.3565)", "as": "sy"},
        {"calculate": "786.95 - 22.93*datum.u3 - 264*datum.D - 867*(datum.bottom - 1.3565)", "as": "syEnd"}
      ],
      "mark": {"type": "area", "orient": "vertical", "color": "#b07400"},
      "encoding": {"y2": {"field": "syEnd"}}
    },
    {
      "data": {"name": "foldTips"},
      "transform": [
        {"calculate": "563.6 + 69.55*datum.u3 - 583.3*datum.D", "as": "sx"},
        {"calculate": "786.95 - 22.93*datum.u3 - 264*datum.D - 867*(datum.top - 1.3565)", "as": "sy"},
        {"calculate": "786.95 - 22.93*datum.u3 - 264*datum.D - 867*(datum.bottom - 1.3565)", "as": "syEnd"}
      ],
      "mark": {"type": "area", "orient": "vertical", "color": "#b07400"},
      "encoding": {"y2": {"field": "syEnd"}, "detail": {"field": "tip"}}
    },
    {
      "data": {"name": "foldBlue"},
      "transform": [
        {"calculate": "563.6 + 69.55*datum.u3 - 583.3*datum.D", "as": "sx"},
        {"calculate": "786.95 - 22.93*datum.u3 - 264*datum.D - 867*(datum.top - 1.3565)", "as": "sy"},
        {"calculate": "786.95 - 22.93*datum.u3 - 264*datum.D - 867*(datum.bottom - 1.3565)", "as": "syEnd"}
      ],
      "mark": {"type": "area", "orient": "vertical", "color": "#0076b6"},
      "encoding": {"y2": {"field": "syEnd"}}
    },
    {
      "data": {"values": [{"u3": 3.368, "D": 0.157, "beta": 1.656}]},
      "transform": [
        {"calculate": "563.6 + 69.55*datum.u3 - 583.3*datum.D", "as": "sx"},
        {"calculate": "786.95 - 22.93*datum.u3 - 264*datum.D - 867*(datum.beta - 1.3565)", "as": "sy"}
      ],
      "mark": {"type": "circle", "size": 150, "color": "#ffe81a", "opacity": 1}
    }
  ]
}
